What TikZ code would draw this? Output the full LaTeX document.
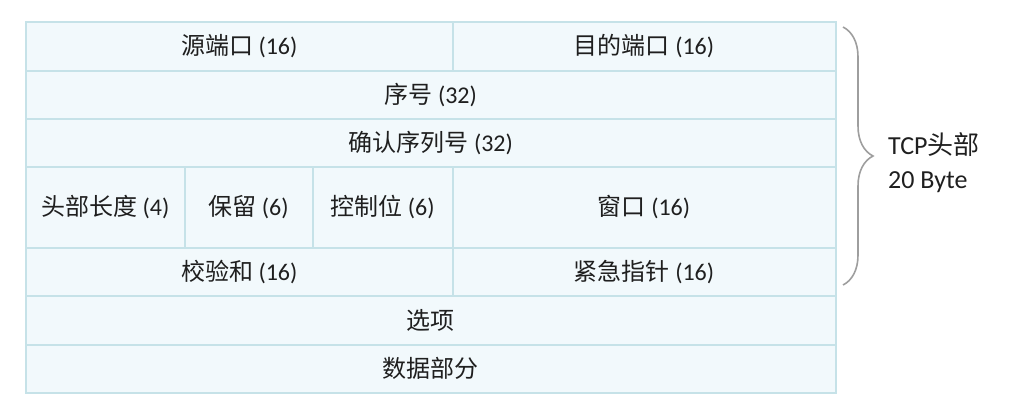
\documentclass[tikz,border=0pt]{standalone}
\usepackage{fontspec}
\setmainfont{Carlito}
\newfontfamily\cjk{Noto Sans CJK SC}
\usetikzlibrary{decorations.pathreplacing}
\definecolor{cellfill}{HTML}{F2F9FC}
\definecolor{cellline}{HTML}{C6E2E8}
\definecolor{bracegray}{HTML}{9E9E9E}
\newcommand\zh[1]{{\cjk #1}}
\tikzset{field/.style={draw=cellline, fill=cellfill, line width=2pt, inner sep=0pt, font=\fontsize{24}{28}\selectfont, text=black!88}}

\begin{document}
\begin{tikzpicture}[x=1pt,y=-1pt]
	\useasboundingbox (0,0) rectangle (1024,412);
	\node[field, minimum width=426.5pt, minimum height=48.5pt] (srcport) at (239.25,46.25) {\zh{源端口} (16)};
	\node[field, minimum width=383pt, minimum height=48.5pt] (dstport) at (644,46.25) {\zh{目的端口} (16)};
	\node[field, minimum width=809.5pt, minimum height=48.5pt] (seqno) at (430.75,94.75) {\zh{序号} (32)};
	\node[field, minimum width=809.5pt, minimum height=47.5pt] (ackno) at (430.75,142.75) {\zh{确认序列号} (32)};
	\node[field, minimum width=158.5pt, minimum height=81.5pt] (hlen) at (105.25,207.25) {\zh{头部长度} (4)};
	\node[field, minimum width=128pt, minimum height=81.5pt] (resv) at (248.5,207.25) {\zh{保留} (6)};
	\node[field, minimum width=140pt, minimum height=81.5pt] (ctrl) at (382.5,207.25) {\zh{控制位} (6)};
	\node[field, minimum width=383pt, minimum height=81.5pt] (window) at (644,207.25) {\zh{窗口} (16)};
	\node[field, minimum width=426.5pt, minimum height=48pt] (csum) at (239.25,272) {\zh{校验和} (16)};
	\node[field, minimum width=383pt, minimum height=48pt] (urgptr) at (644,272) {\zh{紧急指针} (16)};
	\node[field, minimum width=809.5pt, minimum height=48.5pt] (opts) at (430.75,320.25) {\zh{选项}};
	\node[field, minimum width=809.5pt, minimum height=48.5pt] (payload) at (430.75,368.75) {\zh{数据部分}};

	% header brace
	\coordinate (btop) at (843,27);
	\coordinate (bbot) at (843,285);
	\draw[bracegray, line width=1.6pt, decorate, decoration={brace, amplitude=30pt}] (btop) -- (bbot);
	\node[anchor=west, align=left, inner sep=0pt, font=\fontsize{26}{34}\selectfont, text=black!88] (hdrlabel) at (888,163) {TCP\zh{头部}\\20 Byte};
\end{tikzpicture}
\end{document}
